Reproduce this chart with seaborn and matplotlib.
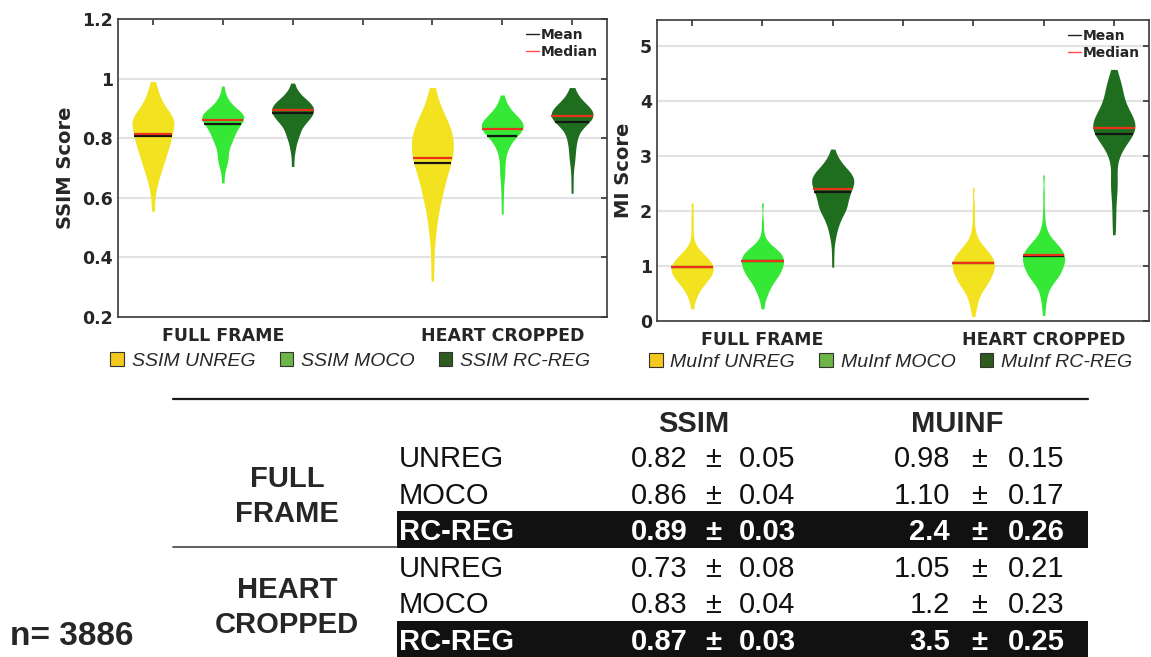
import matplotlib
matplotlib.use('Agg')
from matplotlib import pyplot as plt
from matplotlib.patches import Patch, Rectangle
from matplotlib.lines import Line2D
import pandas as pd
import seaborn as sns
import numpy as np

sns.set_theme(style='white')
plt.rcParams['font.family'] = ['DejaVu Sans']

positions = [1, 2, 3, 5, 6, 7]
methods = ['UNREG', 'MOCO', 'RC-REG']
groups = ['FULL FRAME', 'HEART CROPPED']

violin_colors = ['#F2E21F', '#35E835', '#1F6E1F']
legend_colors = ['#F4C81C', '#6CB546', '#2E5B1F']

# (value, count) pairs
ssim_ff_unreg = [(0.555, 1), (0.60, 1), (0.64, 2), (0.68, 4), (0.72, 6), (0.76, 8), (0.80, 10),
                 (0.84, 10), (0.87, 9), (0.90, 5), (0.93, 3), (0.96, 2), (0.99, 1)]
ssim_ff_moco = [(0.65, 1), (0.69, 1), (0.72, 3), (0.75, 3), (0.78, 3), (0.80, 5), (0.83, 8),
                (0.86, 10), (0.88, 9), (0.90, 5), (0.93, 3), (0.975, 1)]
ssim_ff_rcreg = [(0.705, 1), (0.74, 1), (0.77, 2), (0.80, 3), (0.82, 3), (0.84, 4), (0.86, 7),
                 (0.88, 9), (0.90, 10), (0.92, 8), (0.94, 4), (0.96, 2), (0.985, 1)]
ssim_hc_unreg = [(0.32, 1), (0.38, 1), (0.43, 1), (0.48, 2), (0.53, 3), (0.58, 4), (0.62, 5),
                 (0.66, 6), (0.70, 8), (0.74, 10), (0.78, 10), (0.82, 10), (0.86, 7), (0.90, 4),
                 (0.94, 2), (0.97, 1)]
ssim_hc_moco = [(0.545, 1), (0.60, 1), (0.64, 1), (0.68, 2), (0.72, 2), (0.76, 3), (0.79, 5),
                (0.82, 9), (0.84, 10), (0.86, 8), (0.88, 5), (0.91, 3), (0.945, 1)]
ssim_hc_rcreg = [(0.615, 1), (0.66, 1), (0.70, 1), (0.73, 2), (0.76, 2), (0.79, 3), (0.82, 4),
                 (0.85, 8), (0.87, 10), (0.89, 10), (0.91, 7), (0.93, 3), (0.95, 2), (0.97, 1)]

mi_ff_unreg = [(0.22, 1), (0.35, 1), (0.45, 2), (0.55, 3), (0.65, 5), (0.75, 7), (0.85, 9),
               (0.95, 10), (1.05, 9), (1.15, 7), (1.25, 4), (1.35, 2), (1.5, 1), (1.7, 1),
               (1.9, 1), (2.15, 1)]
mi_ff_moco = [(0.22, 1), (0.35, 1), (0.45, 2), (0.55, 3), (0.65, 4), (0.75, 6), (0.85, 8),
              (0.95, 9), (1.05, 10), (1.15, 10), (1.25, 9), (1.35, 5), (1.45, 2), (1.6, 1),
              (1.8, 1), (2.15, 1)]
mi_ff_rcreg = [(0.98, 1), (1.2, 1), (1.4, 1), (1.55, 2), (1.7, 3), (1.85, 5), (2.0, 7), (2.1, 6),
               (2.2, 6), (2.3, 7), (2.4, 8), (2.5, 9), (2.6, 10), (2.7, 8), (2.8, 5), (2.9, 3),
               (3.0, 2), (3.13, 1)]
mi_hc_unreg = [(0.08, 1), (0.2, 1), (0.3, 2), (0.4, 2), (0.5, 3), (0.6, 5), (0.7, 7), (0.8, 8),
               (0.9, 9), (1.0, 10), (1.1, 10), (1.2, 8), (1.3, 6), (1.4, 4), (1.55, 2), (1.7, 1),
               (1.9, 1), (2.1, 1), (2.43, 1)]
mi_hc_moco = [(0.1, 1), (0.25, 1), (0.4, 2), (0.55, 3), (0.7, 5), (0.8, 7), (0.9, 8), (1.0, 9),
              (1.1, 10), (1.2, 10), (1.3, 9), (1.4, 6), (1.5, 4), (1.65, 2), (1.8, 1), (2.0, 1),
              (2.3, 1), (2.66, 1)]
mi_hc_rcreg = [(1.57, 1), (1.8, 1), (2.0, 1), (2.2, 1), (2.4, 2), (2.6, 2), (2.8, 1), (3.0, 2),
               (3.15, 3), (3.3, 6), (3.45, 10), (3.6, 10), (3.75, 7), (3.9, 5), (4.05, 3),
               (4.2, 4), (4.35, 3), (4.47, 1), (4.58, 1)]

ssim_mean = [0.807, 0.848, 0.885, 0.718, 0.807, 0.854]
ssim_median = [0.815, 0.860, 0.896, 0.735, 0.831, 0.874]
mi_mean = [0.98, 1.09, 2.35, 1.05, 1.185, 3.41]
mi_median = [0.99, 1.09, 2.41, 1.05, 1.197, 3.51]

# table values
row_methods = ['UNREG', 'MOCO', 'RC-REG', 'UNREG', 'MOCO', 'RC-REG']
ssim_tab_mean = ['0.82', '0.86', '0.89', '0.73', '0.83', '0.87']
ssim_tab_sd = ['0.05', '0.04', '0.03', '0.08', '0.04', '0.03']
mi_tab_mean = ['0.98', '1.10', '2.4', '1.05', '1.2', '3.5']
mi_tab_sd = ['0.15', '0.17', '0.26', '0.21', '0.23', '0.25']
n_images = 3886


def build(violins):
    frames = []
    for i, pairs in enumerate(violins):
        vals = np.repeat([p[0] for p in pairs], [p[1] for p in pairs])
        frames.append(pd.DataFrame({'pos': positions[i], 'method': methods[i % 3], 'score': vals}))
    return pd.concat(frames, ignore_index=True)


def span_at(coll, y):
    v = coll.get_paths()[0].vertices
    xs = []
    for (x0, y0), (x1, y1) in zip(v[:-1], v[1:]):
        if y0 != y1 and (y0 - y) * (y1 - y) <= 0:
            xs.append(x0 + (y - y0) * (x1 - x0) / (y1 - y0))
    return min(xs), max(xs)


def draw_panel(ax, violins, means, medians, ylim, yticks, yticklabels, ylabel, prefix, leg_y):
    df = build(violins)
    sns.violinplot(data=df, x='pos', y='score', hue='method', hue_order=methods,
                   palette=violin_colors, native_scale=True, dodge=False, width=0.6, cut=0,
                   inner=None, linewidth=0, saturation=1, bw_adjust=0.72,
                   density_norm='width', legend=False, ax=ax)
    polys = list(ax.collections)
    centers = [np.mean(c.get_paths()[0].vertices[:, 0]) for c in polys]
    for pos, mean, med in zip(positions, means, medians):
        coll = polys[int(np.argmin([abs(c - pos) for c in centers]))]
        for val, col in [(mean, '#151515'), (med, '#E8321A')]:
            x0, x1 = span_at(coll, val)
            ax.plot([x0, x1], [val, val], color=col, lw=1.6, solid_capstyle='butt')

    ax.set_xlim(0.5, 7.5)
    ax.set_ylim(*ylim)
    ax.set_xticks([1, 2, 3, 4, 5, 6, 7])
    ax.set_xticklabels(['', groups[0], '', '', '', groups[1], ''])
    ax.set_yticks(yticks)
    ax.set_yticklabels(yticklabels)
    ax.set_xlabel('')
    ax.set_ylabel(ylabel, fontsize=14, fontweight='bold', color='#262626', labelpad=5)
    ax.yaxis.grid(True, color='#e2e2e2', lw=1.5)
    ax.set_axisbelow(True)
    ax.tick_params(direction='in', top=True, right=True, length=4, width=1.2, color='#333333',
                   labelsize=12.5, labelcolor='#262626')
    ax.tick_params(axis='x', pad=7)
    for t in ax.get_xticklabels() + ax.get_yticklabels():
        t.set_fontweight('bold')
    for s in ax.spines.values():
        s.set_color('#3a3a3a')
        s.set_linewidth(1.2)

    handles = [Patch(facecolor=c, edgecolor='#333333', lw=0.8) for c in legend_colors]
    leg = ax.legend(handles, [prefix + ' ' + m for m in methods], loc='center',
                    bbox_to_anchor=(0.475, leg_y), ncol=3, frameon=False,
                    prop={'family': 'Liberation Sans', 'style': 'italic', 'size': 14},
                    handlelength=0.7, handleheight=0.7, handletextpad=0.4, columnspacing=1.25)
    for t in leg.get_texts():
        t.set_color('#262626')
    ax.add_artist(leg)
    ax.legend([Line2D([0], [0], color='#222222', lw=1), Line2D([0], [0], color='#ff4a4a', lw=1)],
              ['Mean', 'Median'], loc='upper right', frameon=False,
              prop={'weight': 'bold', 'size': 10}, handlelength=1.0, handletextpad=0.1,
              labelspacing=0.2, borderaxespad=0.25)


W, H = 1151, 657
fig = plt.figure(figsize=(W / 100, H / 100), dpi=100)

# table drawn in pixel coordinates
tab = fig.add_axes([0, 0, 1, 1], zorder=-1)
tab.set_xlim(0, W)
tab.set_ylim(H, 0)
tab.axis('off')

ax1 = fig.add_axes([118 / W, 1 - 317 / H, (607 - 118) / W, (317 - 19) / H])
ax2 = fig.add_axes([657 / W, 1 - 321 / H, (1149 - 657) / W, (321 - 20) / H])

draw_panel(ax1, [ssim_ff_unreg, ssim_ff_moco, ssim_ff_rcreg, ssim_hc_unreg, ssim_hc_moco, ssim_hc_rcreg],
           ssim_mean, ssim_median, (0.2, 1.2), [0.2, 0.4, 0.6, 0.8, 1.0, 1.2],
           ['0.2', '0.4', '0.6', '0.8', '1', '1.2'], 'SSIM Score', 'SSIM', -0.148)
draw_panel(ax2, [mi_ff_unreg, mi_ff_moco, mi_ff_rcreg, mi_hc_unreg, mi_hc_moco, mi_hc_rcreg],
           mi_mean, mi_median, (0, 5.48), [0, 1, 2, 3, 4, 5],
           ['0', '1', '2', '3', '4', '5'], 'MI Score', 'MuInf', -0.136)

tf = 'Liberation Sans'
tab.plot([173, 1088], [399, 399], color='#1a1a1a', lw=1.6)
tab.plot([173, 397], [547, 547], color='#444444', lw=1.2)
tab.text(694, 432, 'SSIM', ha='center', va='baseline', fontsize=21, fontweight='bold', family=tf)
tab.text(957, 432, 'MUINF', ha='center', va='baseline', fontsize=21, fontweight='bold', family=tf)

for g, (top_line, bottom_line) in enumerate([(487, 522), (598, 633)]):
    w1, w2 = groups[g].split(' ')
    tab.text(287, top_line, w1, ha='center', va='baseline', fontsize=21, fontweight='bold', family=tf)
    tab.text(287, bottom_line, w2, ha='center', va='baseline', fontsize=21, fontweight='bold', family=tf)

for i, m in enumerate(row_methods):
    yc = 456 + i * 36.6
    base = yc + 11
    if m == 'RC-REG':
        tab.add_patch(Rectangle((397, yc - 18.3), 691, 36.6, color='#111111', lw=0))
        kw = dict(color='white', fontweight='bold')
    else:
        kw = dict(color='#111111')
    tab.text(399, base, m, ha='left', va='baseline', fontsize=21, family=tf, **kw)
    tab.text(688, base, ssim_tab_mean[i], ha='right', va='baseline', fontsize=21, family=tf, **kw)
    tab.text(713, base, '±', ha='center', va='baseline', fontsize=21, family=tf, **kw)
    tab.text(739, base, ssim_tab_sd[i], ha='left', va='baseline', fontsize=21, family=tf, **kw)
    tab.text(950, base, mi_tab_mean[i], ha='right', va='baseline', fontsize=21, family=tf, **kw)
    tab.text(979, base, '±', ha='center', va='baseline', fontsize=21, family=tf, **kw)
    tab.text(1008, base, mi_tab_sd[i], ha='left', va='baseline', fontsize=21, family=tf, **kw)

tab.text(10, 645, 'n= ' + str(n_images), ha='left', va='baseline', fontsize=24, fontweight='bold', family=tf)

fig.savefig('out.png', dpi=100)
